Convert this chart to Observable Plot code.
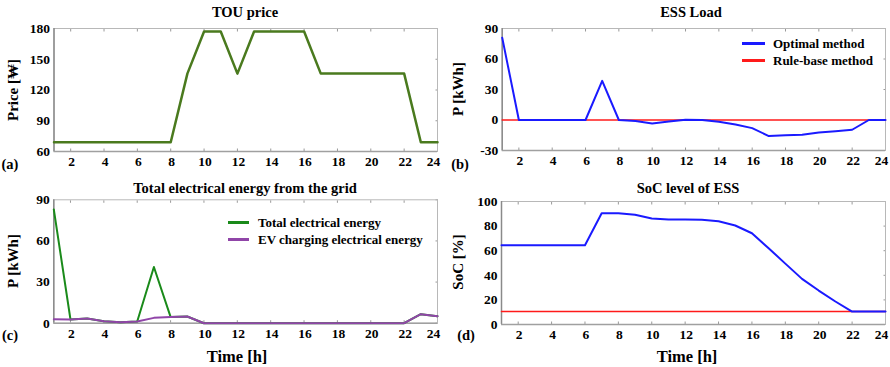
<!DOCTYPE html>
<html><head><meta charset="utf-8">
<script src="https://cdn.jsdelivr.net/npm/d3@7"></script>
<script src="https://cdn.jsdelivr.net/npm/@observablehq/plot@0.6"></script>
<style>
body{margin:0;background:#fff;}
#fig{position:relative;width:890px;height:367px;font-family:"Liberation Serif","Times New Roman",serif;font-weight:bold;color:#000;overflow:hidden;}
.abs{position:absolute;white-space:nowrap;line-height:1;}
.c{transform:translate(-50%,-50%);}
.rot{transform:translate(-50%,-50%) rotate(-90deg);}
.panel{position:absolute;}
.lg{position:absolute;height:3px;}
</style></head><body><div id="fig"></div>
<script>
const hours = [1,2,3,4,5,6,7,8,9,10,11,12,13,14,15,16,17,18,19,20,21,22,23,24];
const xTicks = [2,4,6,8,10,12,14,16,18,20,22,24];

const touPrice = [69,69,69,69,69,69,69,69,136,177,177,136,177,177,177,177,136,136,136,136,136,136,69,69];
const priceTicks = [60,90,120,150,180];

const essOptimal = [81,0,0,0,0,0,38.5,0,-1,-3.5,-1.5,0.3,0,-1.7,-4.5,-8,-15.8,-15,-14.5,-12.2,-11,-9.6,0,0];
const essRule = [0,0,0,0,0,0,0,0,0,0,0,0,0,0,0,0,0,0,0,0,0,0,0,0];
const essTicks = [-30,0,30,60,90];

const gridTotal = [83,2.7,3.4,1.5,0.7,1.2,41,4.6,4.9,0,0,0,0,0,0,0,0,0,0,0,0,0,6.6,5.1];
const gridEV = [2.9,2.7,3.4,1.5,0.7,1.2,3.9,4.6,4.9,0,0,0,0,0,0,0,0,0,0,0,0,0,6.6,5.1];
const gridTicks = [0,30,60,90];

const socOptimal = [64.5,64.5,64.5,64.5,64.5,64.5,90.5,90.5,89.2,86.2,85.3,85.3,85.1,84,80.5,74.2,62,49.5,37.1,27.6,18.7,10.5,10.5,10.5];
const socRule = [10.5,10.5,10.5,10.5,10.5,10.5,10.5,10.5,10.5,10.5,10.5,10.5,10.5,10.5,10.5,10.5,10.5,10.5,10.5,10.5,10.5,10.5,10.5,10.5];
const socTicks = [0,20,40,60,80,100];

const fig = document.getElementById("fig");
const rows = arr => hours.map((h, i) => ({h, v: arr[i]}));

function panel({left, top, height, mt, mb, ml, mr, yDomain, yTicks, series}) {
  const inTick = {tickSize: -2.5, tickFormat: () => "", stroke: "#999", label: null};
  const lastTick = xTicks[xTicks.length - 1];
  const svg = Plot.plot({
    width: 445, height,
    marginTop: mt, marginBottom: mb, marginLeft: ml, marginRight: mr,
    style: {fontFamily: '"Liberation Serif","Times New Roman",serif', fontWeight: "bold", fontSize: "13.5px", color: "#000", background: "transparent", overflow: "visible"},
    x: {domain: [1, 24]},
    y: {domain: yDomain},
    marks: [
      Plot.axisX(xTicks.slice(0, -1), {anchor: "bottom", tickSize: 0, tickPadding: 5, dx: 1, label: null}),
      Plot.axisX([lastTick], {anchor: "bottom", tickSize: 0, tickPadding: 5, dx: -4, label: null}),
      Plot.axisX(xTicks, {anchor: "bottom", ...inTick}),
      Plot.axisX(xTicks, {anchor: "top", ...inTick}),
      Plot.axisY(yTicks, {anchor: "left", tickSize: 0, tickPadding: 4, tickFormat: d => String(d), label: null}),
      Plot.axisY(yTicks, {anchor: "right", ...inTick}),
      Plot.frame({stroke: "#b8b8b8"}),
      Plot.ruleX([1], {stroke: "#8a8a8a", strokeWidth: 1.5}),
      Plot.ruleY([yDomain[0]], {stroke: "#a0a0a0", strokeWidth: 1.5}),
      ...series.map(s => Plot.line(rows(s.data), {x: "h", y: "v", stroke: s.color, strokeWidth: s.width}))
    ]
  });
  svg.classList.add("panel");
  svg.style.left = left + "px";
  svg.style.top = top + "px";
  fig.appendChild(svg);
}

panel({left: 0, top: 0, height: 180, mt: 28, mb: 29, ml: 53.5, mr: 8,
  yDomain: [60, 180], yTicks: priceTicks,
  series: [{data: touPrice, color: "#4a7a1e", width: 2.5}]});

panel({left: 445, top: 0, height: 180, mt: 28, mb: 30, ml: 56.7, mr: 5,
  yDomain: [-30, 90], yTicks: essTicks,
  series: [{data: essRule, color: "#ff1a1a", width: 1.5}, {data: essOptimal, color: "#1a1aff", width: 2}]});

panel({left: 0, top: 180, height: 187, mt: 19.3, mb: 44.3, ml: 53.3, mr: 8,
  yDomain: [0, 90], yTicks: gridTicks,
  series: [{data: gridTotal, color: "#1a8a1a", width: 2}, {data: gridEV, color: "#9045a8", width: 2}]});

panel({left: 445, top: 180, height: 187, mt: 21, mb: 43, ml: 56, mr: 5,
  yDomain: [0, 100], yTicks: socTicks,
  series: [{data: socRule, color: "#ff1a1a", width: 1.5}, {data: socOptimal, color: "#1a1aff", width: 2}]});

function txt(s, x, y, size, cls) {
  const d = document.createElement("div");
  d.className = "abs " + (cls || "c");
  d.textContent = s;
  d.style.left = x + "px"; d.style.top = y + "px"; d.style.fontSize = size + "px";
  fig.appendChild(d);
  return d;
}
function lgLine(color, x1, x2, y) {
  const d = document.createElement("div");
  d.className = "lg";
  d.style.background = color;
  d.style.left = x1 + "px"; d.style.width = (x2 - x1) + "px"; d.style.top = (y - 1.5) + "px";
  fig.appendChild(d);
}

// titles
txt("TOU price", 245, 12, 14.5);
txt("ESS Load", 691, 12, 14.5);
txt("Total electrical energy from the grid", 245, 188, 14.5);
txt("SoC level of ESS", 688, 188, 14.5);
// y labels
txt("Price [₩]", 13, 90, 15, "rot");
txt("P [kWh]", 458, 89, 15, "rot");
txt("P [kWh]", 13, 261, 15, "rot");
txt("SoC [%]", 458, 262, 15, "rot");
// x labels
txt("Time [h]", 237, 357, 16.5);
txt("Time [h]", 687, 357, 16.5);
// panel letters
txt("(a)", 10, 164, 14.5);
txt("(b)", 460, 164, 14.5);
txt("(c)", 10, 335, 14.5);
txt("(d)", 466, 335, 14.5);
// legends
lgLine("#1a1aff", 742, 765, 43);
lgLine("#ff1a1a", 742, 765, 60);
txt("Optimal method", 773, 43, 13, "").style.transform = "translateY(-50%)";
txt("Rule-base method", 773, 60, 13, "").style.transform = "translateY(-50%)";
lgLine("#1a8a1a", 228, 249, 222);
lgLine("#9045a8", 228, 249, 239);
txt("Total electrical energy", 258, 222, 13, "").style.transform = "translateY(-50%)";
txt("EV charging electrical energy", 258, 239, 13, "").style.transform = "translateY(-50%)";
</script></body></html>
